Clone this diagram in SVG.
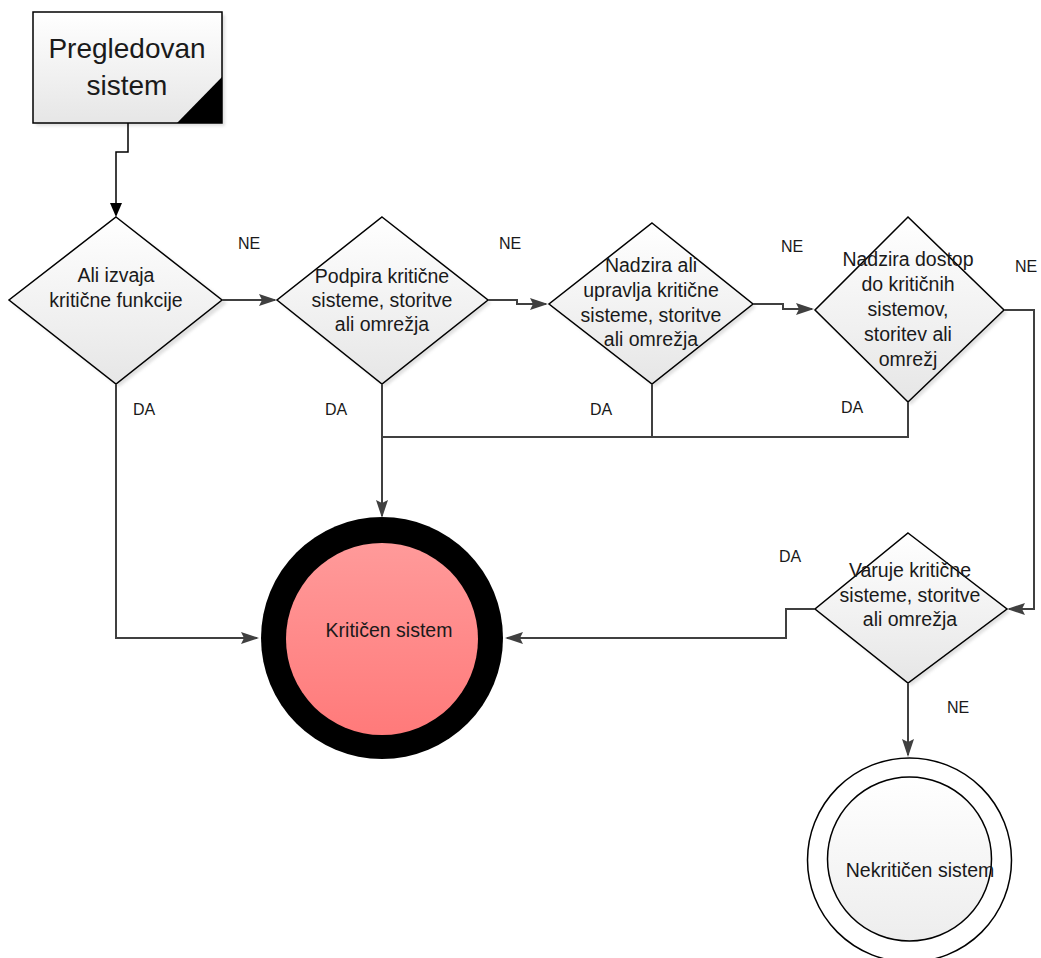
<svg xmlns="http://www.w3.org/2000/svg" width="1041" height="958" viewBox="0 0 1041 958">
  <defs>
    <linearGradient id="gFill" x1="0" y1="0" x2="0" y2="1">
      <stop offset="0" stop-color="#ffffff"/>
      <stop offset="1" stop-color="#e6e6e6"/>
    </linearGradient>
    <linearGradient id="gPink" x1="0" y1="0" x2="0" y2="1">
      <stop offset="0" stop-color="#ff9a9a"/>
      <stop offset="1" stop-color="#ff7a7a"/>
    </linearGradient>
    <linearGradient id="gLight" x1="0" y1="0" x2="0" y2="1">
      <stop offset="0" stop-color="#ffffff"/>
      <stop offset="1" stop-color="#ededed"/>
    </linearGradient>
    <filter id="soft" x="-10%" y="-10%" width="130%" height="130%">
      <feGaussianBlur stdDeviation="1.5"/>
    </filter>
    <marker id="arr" markerUnits="userSpaceOnUse" viewBox="0 0 18 12" markerWidth="18" markerHeight="12" refX="16" refY="6" orient="auto">
      <path d="M0,0 L18,6 L0,12 L3,6 z" fill="#404040"/>
    </marker>
    <marker id="arrBlack" markerUnits="userSpaceOnUse" viewBox="0 0 14 12" markerWidth="14" markerHeight="12" refX="12" refY="6" orient="auto">
      <path d="M0,0 L14,6 L0,12 z" fill="#000"/>
    </marker>
  </defs>
  <style>
    .node { fill: url(#gFill); stroke: #000; stroke-width: 1.5; }
    .shadow { fill: #bbb; opacity: 0.45; filter: url(#soft); }
    .txt { font-family: "Liberation Sans", Arial, sans-serif; font-size: 19.5px; fill: #1a1a1a; text-anchor: middle; }
    .big { font-size: 28px; }
    .lbl { font-family: "Liberation Sans", Arial, sans-serif; font-size: 16px; fill: #1a1a1a; }
    .conn { fill: none; stroke: #404040; stroke-width: 2; }
  </style>

  <!-- start document -->
  <g id="start">
    <rect class="shadow" x="36" y="15" width="189" height="111"/>
    <rect class="node" x="33" y="12" width="189" height="111" stroke="#555"/>
    <polygon points="177,123 222,123 222,77" fill="#000"/>
    <text class="txt big" x="127" y="58">Pregledovan</text>
    <text class="txt big" x="127" y="95">sistem</text>
  </g>

  <!-- decision 1 -->
  <g id="d1">
    <polygon class="shadow" points="119,220 227,303 119,387 12,303"/>
    <polygon class="node" points="116,217 222,300 116,384 9,300"/>
    <text class="txt" x="116" y="282">Ali izvaja</text>
    <text class="txt" x="116" y="307">kritične funkcije</text>
  </g>

  <!-- decision 2 -->
  <g id="d2">
    <polygon class="shadow" points="385,220 491,303 385,387 280,303"/>
    <polygon class="node" points="382,217 488,300 382,384 277,300"/>
    <text class="txt" x="382" y="283">Podpira kritične</text>
    <text class="txt" x="382" y="307">sisteme, storitve</text>
    <text class="txt" x="382" y="331">ali omrežja</text>
  </g>

  <!-- decision 3 -->
  <g id="d3">
    <polygon class="shadow" points="655,226 756,307 655,387 552,307"/>
    <polygon class="node" points="652,223 753,304 652,384 549,304"/>
    <text class="txt" x="651" y="272">Nadzira ali</text>
    <text class="txt" x="651" y="297">upravlja kritične</text>
    <text class="txt" x="651" y="322">sisteme, storitve</text>
    <text class="txt" x="651" y="346">ali omrežja</text>
  </g>

  <!-- decision 4 -->
  <g id="d4">
    <polygon class="shadow" points="911,220 1007,313 911,405 818,313"/>
    <polygon class="node" points="908,217 1004,310 908,402 815,310"/>
    <text class="txt" x="908" y="266">Nadzira dostop</text>
    <text class="txt" x="908" y="291">do kritičnih</text>
    <text class="txt" x="908" y="316">sistemov,</text>
    <text class="txt" x="908" y="341">storitev ali</text>
    <text class="txt" x="908" y="366">omrežj</text>
  </g>

  <!-- decision 5 -->
  <g id="d5">
    <polygon class="shadow" points="911,536 1010,612 911,686 818,612"/>
    <polygon class="node" points="908,533 1007,609 908,683 815,609"/>
    <text class="txt" x="910" y="577">Varuje kritične</text>
    <text class="txt" x="910" y="602">sisteme, storitve</text>
    <text class="txt" x="910" y="626">ali omrežja</text>
  </g>

  <!-- critical end state -->
  <g id="critical">
    <circle cx="382" cy="638" r="121" fill="#000"/>
    <circle cx="382" cy="639" r="96" fill="url(#gPink)"/>
    <text class="txt" x="389" y="637">Kritičen sistem</text>
  </g>

  <!-- non-critical end state -->
  <g id="noncritical">
    <circle cx="909.5" cy="860" r="102" fill="#fff" stroke="#000" stroke-width="1.5"/>
    <circle cx="909.5" cy="859" r="82" fill="url(#gLight)" stroke="#000" stroke-width="1.5"/>
    <text class="txt" x="920" y="877">Nekritičen sistem</text>
  </g>

  <!-- connectors -->
  <g id="connectors">
    <path d="M128,123 V152 H116 V215" fill="none" stroke="#000" stroke-width="1.5" marker-end="url(#arrBlack)"/>
    <path class="conn" d="M222,300 H275" marker-end="url(#arr)"/>
    <path class="conn" d="M488,300 H517 V304 H546" marker-end="url(#arr)"/>
    <path class="conn" d="M753,304 H783 V309 H812" marker-end="url(#arr)"/>
    <path class="conn" d="M116,384 V638 H257" marker-end="url(#arr)"/>
    <path class="conn" d="M382,384 V516" marker-end="url(#arr)"/>
    <path class="conn" d="M652,384 V437 H382"/>
    <path class="conn" d="M908,402 V437 H652"/>
    <path class="conn" d="M1004,310 H1034 V609 H1009" marker-end="url(#arr)"/>
    <path class="conn" d="M815,609 H786 V638 H507" marker-end="url(#arr)"/>
    <path class="conn" d="M908,683 V755" marker-end="url(#arr)"/>
  </g>

  <!-- branch labels -->
  <g id="labels">
    <text class="lbl" x="238" y="249">NE</text>
    <text class="lbl" x="499" y="249">NE</text>
    <text class="lbl" x="781" y="252">NE</text>
    <text class="lbl" x="1015" y="272">NE</text>
    <text class="lbl" x="133" y="415">DA</text>
    <text class="lbl" x="325" y="415">DA</text>
    <text class="lbl" x="590" y="415">DA</text>
    <text class="lbl" x="841" y="413">DA</text>
    <text class="lbl" x="779" y="562">DA</text>
    <text class="lbl" x="947" y="713">NE</text>
  </g>
</svg>
